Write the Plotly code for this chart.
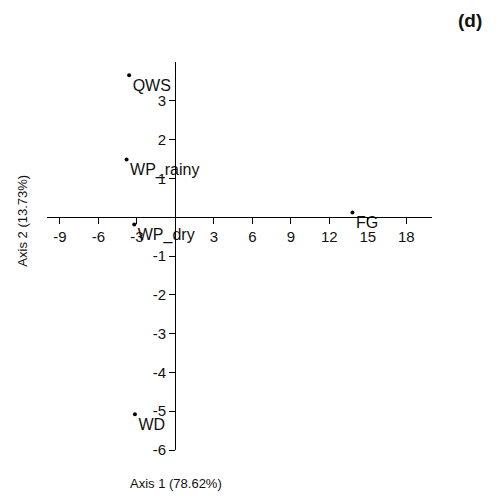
import plotly.graph_objects as go

labels = ["QWS", "WP_rainy", "WP_dry", "FG", "WD"]
axis1 = [-3.6, -3.8, -3.2, 13.8, -3.15]
axis2 = [3.66, 1.49, -0.19, 0.12, -5.08]

x_ticks = [-9, -6, -3, 3, 6, 9, 12, 15, 18]
y_ticks = [-6, -5, -4, -3, -2, -1, 1, 2, 3]

x_title = "Axis 1 (78.62%)"
y_title = "Axis 2 (13.73%)"
panel = "(d)"

FONT = "Liberation Sans, Arial, sans-serif"

# page body has an 8px margin; the figure is sized to fit the window
OFF = 8
W, H = 499 - OFF, 496 - OFF
L, R, T, B = 38.6, 67.2, 53.9, 46.4
PW, PH = W - L - R, H - T - B


def px(x):
    return (x - OFF - L) / PW


def py(y):
    return 1 - (y - OFF - T) / PH


fig = go.Figure()
fig.add_trace(go.Scatter(
    x=axis1, y=axis2, mode="markers+text", text=labels,
    textposition="bottom right",
    marker=dict(color="black", size=4),
    textfont=dict(family=FONT, size=16, color="#111"),
    cliponaxis=False, showlegend=False,
))

fig.update_layout(
    width=W, height=H,
    margin=dict(l=L, r=R, t=T, b=B, pad=0),
    paper_bgcolor="white", plot_bgcolor="white",
    font=dict(family=FONT, size=15, color="#111"),
    xaxis=dict(range=[-10, 20], anchor="free", position=0.6,
               tickvals=x_ticks, ticktext=[str(v) for v in x_ticks],
               showline=True, linecolor="black", linewidth=1.3,
               ticks="outside", ticklen=6, tickcolor="black",
               showgrid=False, zeroline=False,
               tickfont=dict(size=15, color="#111")),
    yaxis=dict(range=[-6, 4], anchor="free", position=1/3,
               tickvals=y_ticks, ticktext=[str(v) for v in y_ticks],
               showline=True, linecolor="black", linewidth=1.3,
               ticks="outside", ticklen=6, tickcolor="black",
               showgrid=False, zeroline=False,
               tickfont=dict(size=15, color="#111")),
    annotations=[
        dict(text=x_title, x=px(175.5), y=py(483), xref="paper", yref="paper",
             showarrow=False, xanchor="center", yanchor="middle",
             font=dict(size=13, color="#111")),
        dict(text=y_title, x=px(22), y=py(220), xref="paper", yref="paper",
             showarrow=False, xanchor="center", yanchor="middle", textangle=-90,
             font=dict(size=13, color="#111")),
        dict(text="<b>" + panel + "</b>", x=px(470), y=py(20), xref="paper", yref="paper",
             showarrow=False, xanchor="center", yanchor="middle",
             font=dict(size=19, color="#111")),
    ],
)

fig.write_html("out.html")
